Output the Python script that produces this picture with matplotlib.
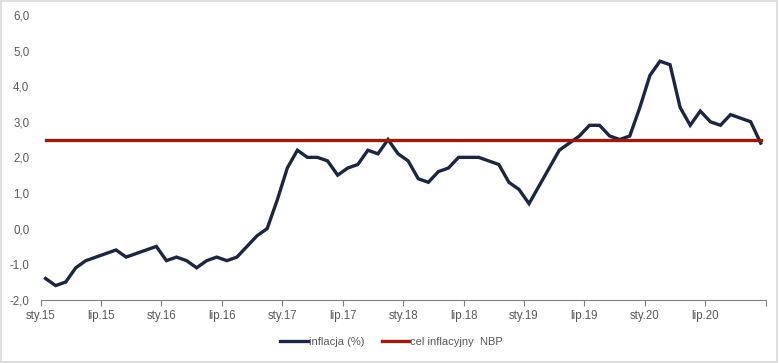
import numpy as np
import matplotlib.pyplot as plt
from matplotlib.patches import Rectangle

plt.rcParams["font.family"] = ["Liberation Sans", "DejaVu Sans"]

# CPI y/y, monthly, Jan 2015 - Dec 2020
inflacja = [
    -1.4, -1.6, -1.5, -1.1, -0.9, -0.8, -0.7, -0.6, -0.8, -0.7, -0.6, -0.5,
    -0.9, -0.8, -0.9, -1.1, -0.9, -0.8, -0.9, -0.8, -0.5, -0.2, 0.0, 0.8,
    1.7, 2.2, 2.0, 2.0, 1.9, 1.5, 1.7, 1.8, 2.2, 2.1, 2.5, 2.1,
    1.9, 1.4, 1.3, 1.6, 1.7, 2.0, 2.0, 2.0, 1.9, 1.8, 1.3, 1.1,
    0.7, 1.2, 1.7, 2.2, 2.4, 2.6, 2.9, 2.9, 2.6, 2.5, 2.6, 3.4,
    4.3, 4.7, 4.6, 3.4, 2.9, 3.3, 3.0, 2.9, 3.2, 3.1, 3.0, 2.4,
]
cel_nbp = [2.5] * len(inflacja)
tick_labels = ["sty.15", "lip.15", "sty.16", "lip.16", "sty.17", "lip.17",
               "sty.18", "lip.18", "sty.19", "lip.19", "sty.20", "lip.20"]
y_ticks = [-2, -1, 0, 1, 2, 3, 4, 5, 6]

navy = "#1c2541"
red = "#9b1c0e"
grey = "#595959"

fig = plt.figure(figsize=(7.79, 3.63), dpi=100)
ax = fig.add_axes([0.052, 0.174, 0.931, 0.785])

x = np.arange(len(inflacja))
ax.plot(x, inflacja, color=navy, lw=2.4, label="inflacja (%)", solid_joinstyle="miter")
ax.plot(x, cel_nbp, color=red, lw=2.4, label="cel inflacyjny  NBP")

ax.set_xlim(-0.5, len(inflacja) - 0.5)
ax.set_ylim(-2, 6)
ax.set_xticks(np.arange(-0.5, len(inflacja) + 0.5, 6)[:len(tick_labels)], tick_labels)
ax.set_xticks(np.arange(-0.5, len(inflacja), 6).tolist() + [len(inflacja) - 0.5], minor=True)
ax.set_yticks(y_ticks, [f"{v:.1f}".replace(".", ",") for v in y_ticks])

for s in ["top", "right", "left"]:
    ax.spines[s].set_visible(False)
ax.spines["bottom"].set_color("#808080")
ax.spines["bottom"].set_linewidth(0.8)
ax.tick_params(axis="y", length=0, labelsize=8.3, labelcolor=grey, pad=8)
ax.tick_params(axis="x", which="both", length=4, color="#808080", labelsize=8.3,
               labelcolor=grey, pad=3.5)

leg = fig.legend(loc="center", bbox_to_anchor=(0.503, 0.058), ncol=2, frameon=False,
                 fontsize=8, handlelength=2.5, handletextpad=0.1, columnspacing=1.5)
for t in leg.get_texts():
    t.set_color(grey)

fig.patches.append(Rectangle((0.001, 0.002), 0.997, 0.995, transform=fig.transFigure,
                             fill=False, edgecolor="#d9d9d9", lw=1.2))

fig.savefig("out.png", dpi=100)
